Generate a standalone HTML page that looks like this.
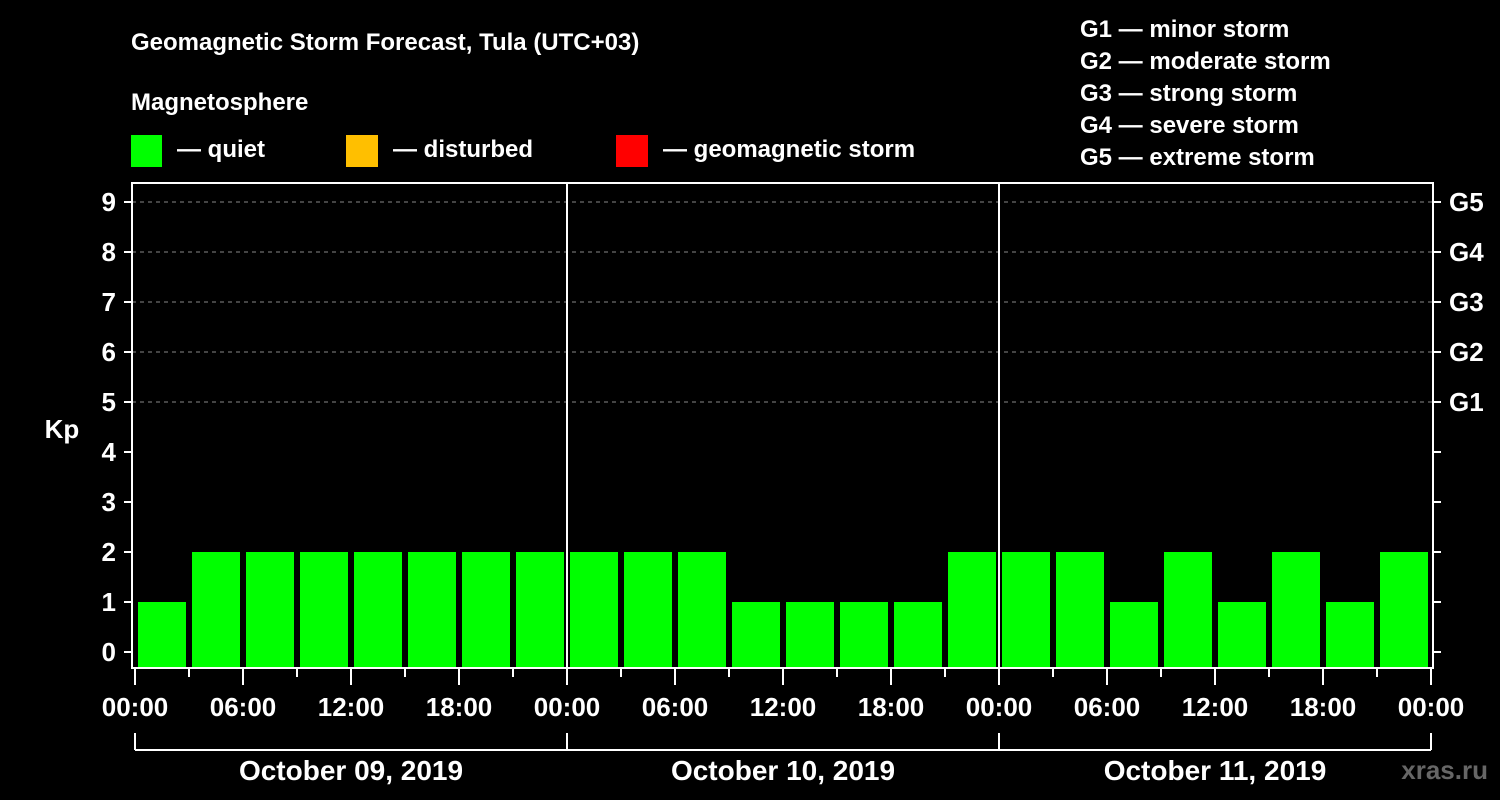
<!DOCTYPE html>
<html><head><meta charset="utf-8"><style>
html,body{margin:0;padding:0;background:#000;width:1500px;height:800px;overflow:hidden}
svg{display:block;font-family:"Liberation Sans",Arial,sans-serif;font-weight:bold}
</style></head><body>
<svg id="chart" width="1500" height="800" viewBox="0 0 1500 800">
<text x="131" y="50" fill="#fff" font-size="24">Geomagnetic Storm Forecast, Tula (UTC+03)</text>
<text x="131" y="110" fill="#fff" font-size="24">Magnetosphere</text>
<g><rect x="131" y="135" width="31" height="32" fill="#00ff00"/><text x="177" y="157" fill="#fff" font-size="24">— quiet</text></g>
<g><rect x="346" y="135" width="32" height="32" fill="#ffbf00"/><text x="393" y="157" fill="#fff" font-size="24">— disturbed</text></g>
<g><rect x="616" y="135" width="32" height="32" fill="#ff0000"/><text x="663" y="157" fill="#fff" font-size="24">— geomagnetic storm</text></g>
<g fill="#fff" font-size="24">
<text x="1080" y="37">G1 — minor storm</text>
<text x="1080" y="69">G2 — moderate storm</text>
<text x="1080" y="101">G3 — strong storm</text>
<text x="1080" y="133">G4 — severe storm</text>
<text x="1080" y="165">G5 — extreme storm</text>
</g>
<text x="62" y="438" fill="#fff" font-size="26" text-anchor="middle">Kp</text>
<g id="grid"></g><g id="bars"></g><g id="axes"></g>
<text x="1488" y="779" fill="#666" font-size="26" text-anchor="end">xras.ru</text>
</svg>
<script>
const kpValues=[1,2,2,2,2,2,2,2, 2,2,2,1,1,1,1,2, 2,2,1,2,1,2,1,2];
const dayLabels=["October 09, 2019","October 10, 2019","October 11, 2019"];
const hourLabels=["00:00","06:00","12:00","18:00"];
const gLabels=["G1","G2","G3","G4","G5"];
const yTicks=[0,1,2,3,4,5,6,7,8,9];
const NS="http://www.w3.org/2000/svg";
const L=132,R=1433,T=183,B=668,X0=135,SLOT=54;
const y=v=>652-50*v;
const x=i=>X0+SLOT*i;
function mk(t,a,p){const e=document.createElementNS(NS,t);for(const k in a)e.setAttribute(k,a[k]);p.appendChild(e);return e;}
const grid=document.getElementById('grid'),bars=document.getElementById('bars'),axes=document.getElementById('axes');
function color(v){return v>=5?'#ff0000':v>=4?'#ffbf00':'#00ff00';}
for(let v=5;v<=9;v++){const l=mk('line',{x1:L,x2:R,y1:y(v),y2:y(v),stroke:'#888','stroke-dasharray':'4,4','stroke-width':1},grid);

}
kpValues.forEach((v,i)=>{const r=mk('rect',{x:x(i)+3,y:y(v),width:48,height:B-y(v),fill:color(v)},bars);

});
mk('rect',{x:L,y:T,width:R-L,height:B-T,fill:'none',stroke:'#fff','stroke-width':2},axes);
for(let d=1;d<dayLabels.length;d++){const xx=x(d*8);const l=mk('line',{x1:xx,x2:xx,y1:T,y2:B,stroke:'#fff','stroke-width':2},axes);

}
yTicks.forEach(v=>{mk('line',{x1:124,x2:L,y1:y(v),y2:y(v),stroke:'#fff','stroke-width':2},axes);
mk('line',{x1:R,x2:1441,y1:y(v),y2:y(v),stroke:'#fff','stroke-width':2},axes);
const t=mk('text',{x:116,y:y(v)+9,fill:'#fff','font-size':26,'text-anchor':'end'},axes);t.textContent=v;

});
gLabels.forEach((g,i)=>{const t=mk('text',{x:1449,y:y(5+i)+9,fill:'#fff','font-size':26},axes);t.textContent=g;

});
for(let i=0;i<=kpValues.length;i++){const major=i%2===0;mk('line',{x1:x(i),x2:x(i),y1:B,y2:major?685:677,stroke:'#fff','stroke-width':2},axes);
if(major){const t=mk('text',{x:x(i),y:716,fill:'#fff','font-size':26,'text-anchor':'middle'},axes);t.textContent=hourLabels[(i/2)%4];

}}
mk('line',{x1:x(0),x2:x(24),y1:750,y2:750,stroke:'#fff','stroke-width':2},axes);
for(let d=0;d<=dayLabels.length;d++)mk('line',{x1:x(d*8),x2:x(d*8),y1:733,y2:750,stroke:'#fff','stroke-width':2},axes);
dayLabels.forEach((s,d)=>{const t=mk('text',{x:x(d*8+4),y:780,fill:'#fff','font-size':28,'text-anchor':'middle'},axes);t.textContent=s;

});
</script>
</body></html>
